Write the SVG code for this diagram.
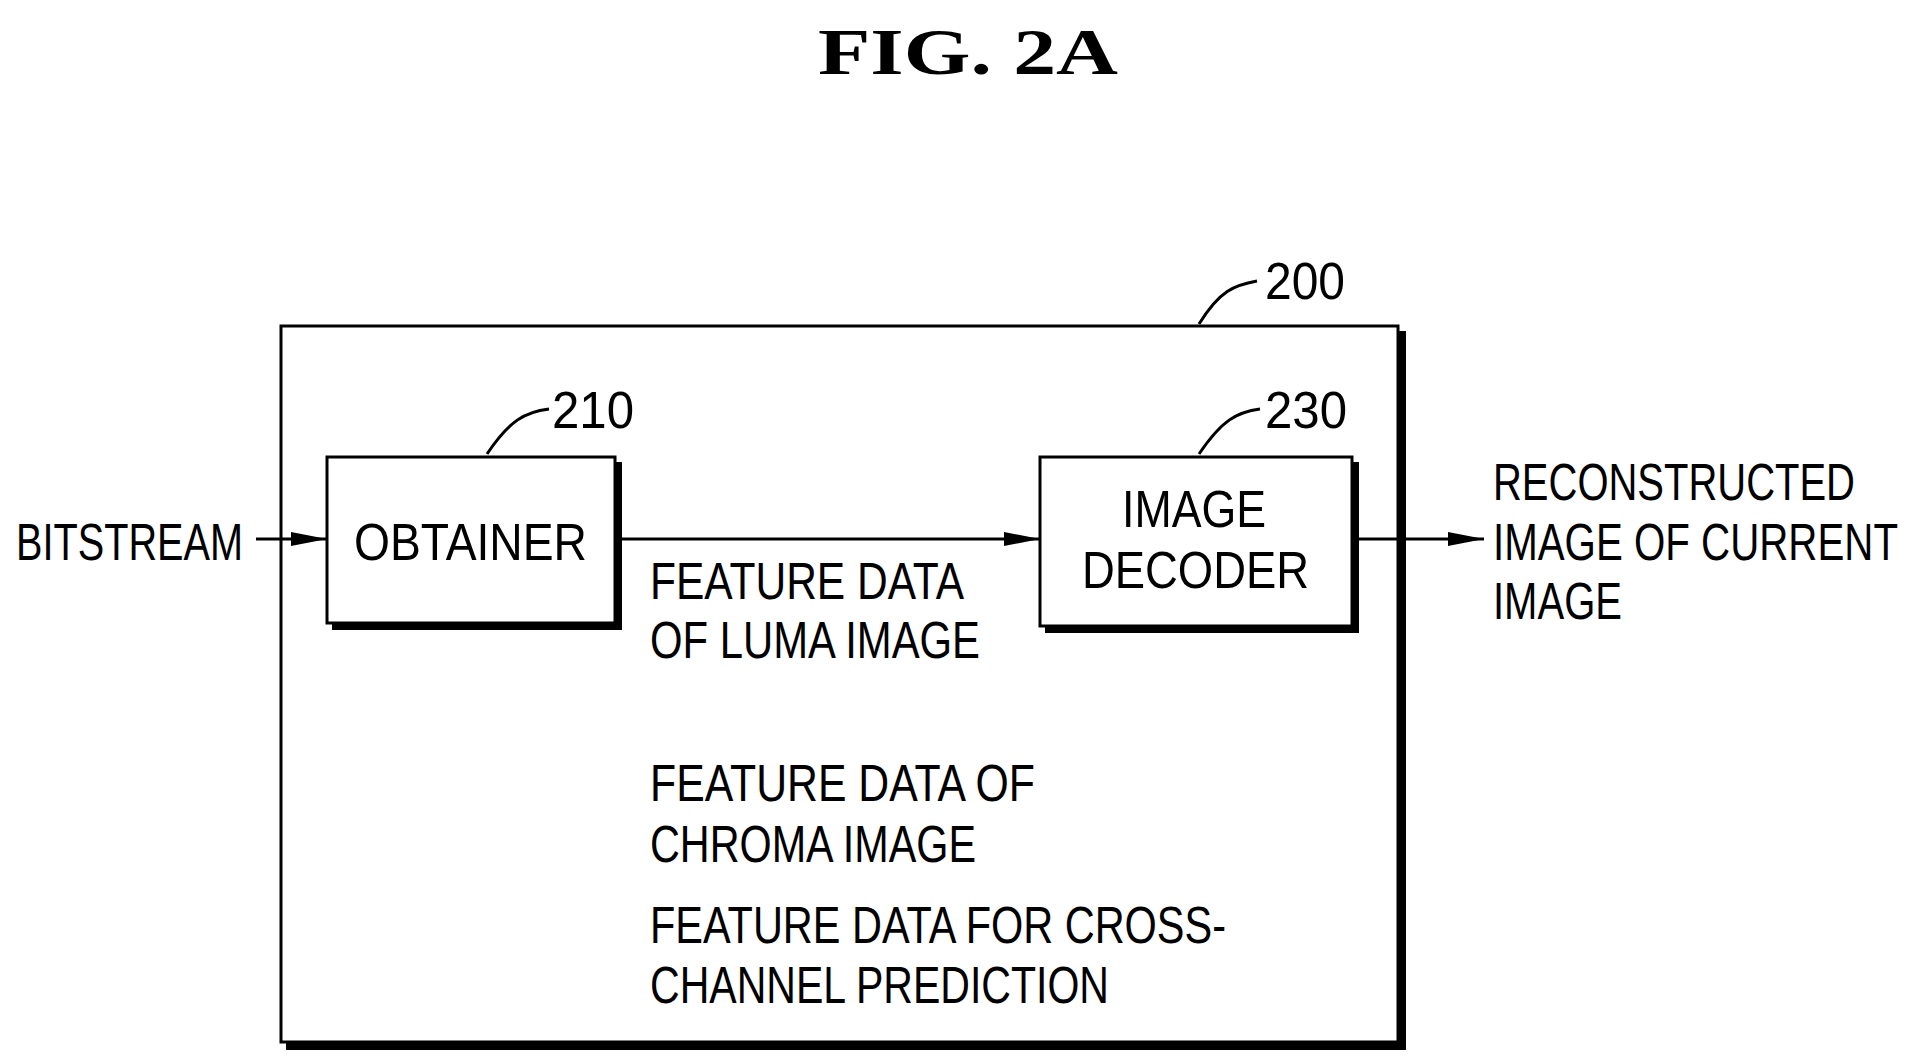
<svg xmlns="http://www.w3.org/2000/svg" width="1920" height="1060" viewBox="0 0 1920 1060">
<defs>
<style>
.t{font-family:"Liberation Sans",Arial,sans-serif;font-size:52px;fill:#000}
.box{fill:#fff;stroke:#000;stroke-width:3}
.sh{fill:#000}
.ln{stroke:#000;stroke-width:3;fill:none}
</style>
<marker id="ah2" markerWidth="36" markerHeight="16" refX="36" refY="8" orient="auto" markerUnits="userSpaceOnUse" viewBox="0 0 36 16"><path d="M0,1 L36,8 L0,15 Z" fill="#000"/></marker>
</defs>
<rect width="1920" height="1060" fill="#fff"/>
<text x="968" y="74" text-anchor="middle" font-family="Liberation Serif,serif" font-weight="bold" font-size="66" textLength="300" lengthAdjust="spacingAndGlyphs">FIG.  2A</text>
<g transform="translate(-5,0)">
<g id="n200">
<rect class="sh" x="291" y="331" width="1120" height="719"/>
<rect class="box" x="286" y="326" width="1117" height="716"/>
<path class="ln" d="M1204,324 C1225,290 1240,285 1262,281" stroke-width="2"/>
<text class="t" x="1270" y="299" textLength="80" lengthAdjust="spacingAndGlyphs">200</text>
</g>
<g id="n210">
<rect class="sh" x="337" y="462" width="290" height="168"/>
<rect class="box" x="332" y="457" width="288" height="166"/>
<text class="t" x="359" y="560" textLength="233" lengthAdjust="spacingAndGlyphs">OBTAINER</text>
<path class="ln" d="M492,454 C515,420 530,412 554,409" stroke-width="2"/>
<text class="t" x="557" y="428" textLength="82" lengthAdjust="spacingAndGlyphs">210</text>
</g>
<g id="n230">
<rect class="sh" x="1050" y="462" width="314" height="171"/>
<rect class="box" x="1045" y="457" width="312" height="169"/>
<text class="t" x="1127" y="527" textLength="144" lengthAdjust="spacingAndGlyphs">IMAGE</text>
<text class="t" x="1087" y="588" textLength="227" lengthAdjust="spacingAndGlyphs">DECODER</text>
<path class="ln" d="M1204,454 C1227,420 1242,412 1265,409" stroke-width="2"/>
<text class="t" x="1270" y="428" textLength="82" lengthAdjust="spacingAndGlyphs">230</text>
</g>
<g id="connectors">
<line class="ln" x1="261" y1="539" x2="332" y2="539" marker-end="url(#ah2)"/>
<line class="ln" x1="627" y1="539" x2="1045" y2="539" marker-end="url(#ah2)"/>
<line class="ln" x1="1364" y1="539" x2="1489" y2="539" marker-end="url(#ah2)"/>
</g>
<g id="labels">
<text class="t" x="21" y="560" textLength="227" lengthAdjust="spacingAndGlyphs">BITSTREAM</text>
<text class="t" x="1498" y="500" textLength="362" lengthAdjust="spacingAndGlyphs">RECONSTRUCTED</text>
<text class="t" x="1498" y="560" textLength="405" lengthAdjust="spacingAndGlyphs">IMAGE OF CURRENT</text>
<text class="t" x="1498" y="619" textLength="129" lengthAdjust="spacingAndGlyphs">IMAGE</text>
<text class="t" x="655" y="599" textLength="314" lengthAdjust="spacingAndGlyphs">FEATURE DATA</text>
<text class="t" x="655" y="658" textLength="330" lengthAdjust="spacingAndGlyphs">OF LUMA IMAGE</text>
<text class="t" x="655" y="801" textLength="385" lengthAdjust="spacingAndGlyphs">FEATURE DATA OF</text>
<text class="t" x="655" y="862" textLength="326" lengthAdjust="spacingAndGlyphs">CHROMA IMAGE</text>
<text class="t" x="655" y="943" textLength="576" lengthAdjust="spacingAndGlyphs">FEATURE DATA FOR CROSS-</text>
<text class="t" x="655" y="1003" textLength="459" lengthAdjust="spacingAndGlyphs">CHANNEL PREDICTION</text>
</g>
</g>
</svg>
